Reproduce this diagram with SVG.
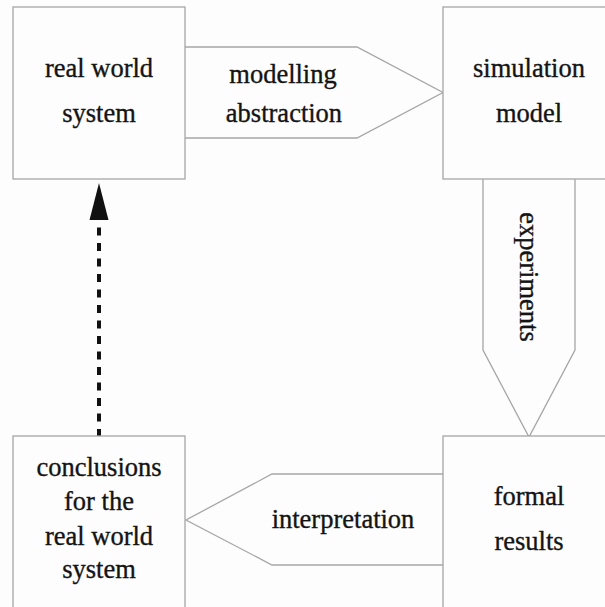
<svg xmlns="http://www.w3.org/2000/svg" width="605" height="607" viewBox="0 0 605 607">
  <style>
    .box { fill: #fdfdfd; stroke: #a6a6a6; stroke-width: 1.3; }
    .arr { fill: #fdfdfd; stroke: #a6a6a6; stroke-width: 1.3; }
    text { font-family: 'Liberation Serif', Tinos, 'Times New Roman', Times, 'DejaVu Serif', serif; font-size: 26.5px; fill: #141414; stroke: #141414; stroke-width: 0.35; text-anchor: middle; }
  </style>
  <rect x="0" y="0" width="605" height="607" fill="#fdfdfd"/>
  <g id="connectors">
    <g id="modelling-abstraction">
      <polyline class="arr" points="185,47 357,47 443,92.5 357,138 185,138"/>
      <text x="283" y="83">modelling</text>
      <text x="284" y="122">abstraction</text>
    </g>
    <g id="experiments">
      <polyline class="arr" points="483,179 483,350 529,437 575,350 575,179"/>
      <text transform="translate(520,277) rotate(90)">experiments</text>
    </g>
    <g id="interpretation">
      <polyline class="arr" points="443,474 272,474 186,520 272,565 443,565"/>
      <text x="343" y="528">interpretation</text>
    </g>
    <g id="feedback">
      <line x1="99" y1="437" x2="99" y2="218" stroke="#111" stroke-width="4" stroke-dasharray="8,7.5"/>
      <polygon points="99,183 89.5,220 108.5,220" fill="#111"/>
    </g>
  </g>
  <g id="real-world-system">
    <rect class="box" x="13" y="7" width="172" height="172"/>
    <text x="99" y="77">real world</text>
    <text x="99" y="122">system</text>
  </g>
  <g id="simulation-model">
    <rect class="box" x="443" y="7" width="172" height="172"/>
    <text x="529" y="77">simulation</text>
    <text x="529" y="122">model</text>
  </g>
  <g id="formal-results">
    <rect class="box" x="443" y="436" width="172" height="180"/>
    <text x="529" y="505">formal</text>
    <text x="529" y="550">results</text>
  </g>
  <g id="conclusions">
    <rect class="box" x="13" y="436" width="172" height="180"/>
    <text x="99" y="476">conclusions</text>
    <text x="99" y="510">for the</text>
    <text x="99" y="545">real world</text>
    <text x="99" y="578">system</text>
  </g>
</svg>
